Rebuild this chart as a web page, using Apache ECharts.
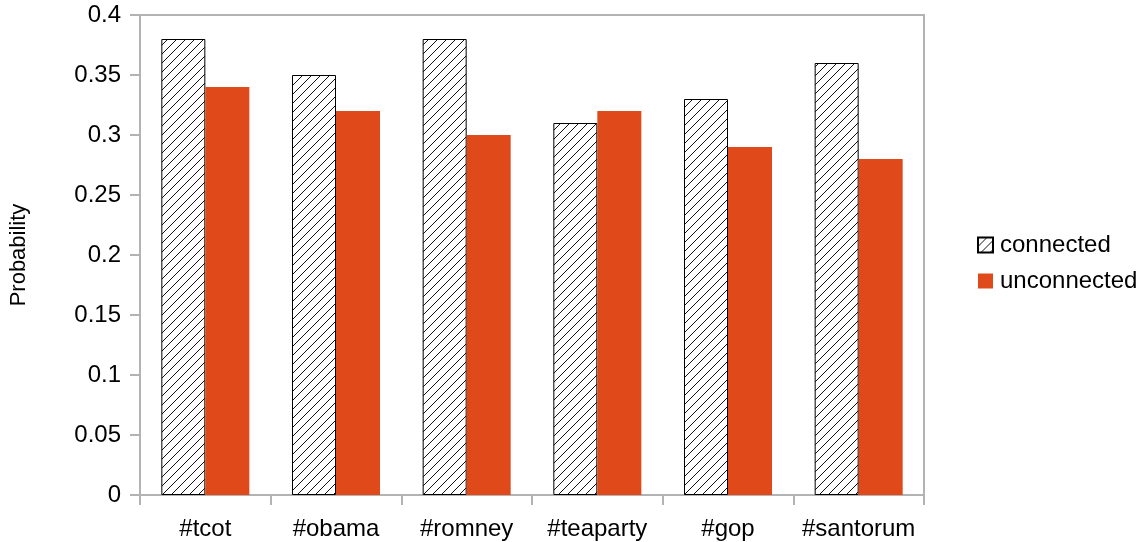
<!DOCTYPE html>
<html>
<head>
<meta charset="utf-8">
<script src="https://cdn.jsdelivr.net/npm/echarts@6/dist/echarts.min.js"></script>
<style>
  html, body { margin: 0; padding: 0; background: #fff; }
  #chart { width: 1147px; height: 542px; }
</style>
</head>
<body>
<div id="chart"></div>
<script>
// Hashtag categories and per-series probabilities
const categories = ['#tcot', '#obama', '#romney', '#teaparty', '#gop', '#santorum'];
const connected = [0.38, 0.35, 0.38, 0.31, 0.33, 0.36];
const unconnected = [0.34, 0.32, 0.30, 0.32, 0.29, 0.28];
const seriesNames = ['connected', 'unconnected'];

// Diagonal hatch tile for the "connected" bars
function hatchPattern() {
  const s = 9;
  const c = document.createElement('canvas');
  c.width = s; c.height = s;
  const g = c.getContext('2d');
  g.fillStyle = '#ffffff';
  g.fillRect(0, 0, s, s);
  g.strokeStyle = '#111111';
  g.lineWidth = 1;
  g.beginPath();
  g.moveTo(0, s); g.lineTo(s, 0);
  g.moveTo(s - 0.5, s + 0.5); g.lineTo(s + 0.5, s - 0.5);
  g.moveTo(-0.5, 0.5); g.lineTo(0.5, -0.5);
  g.stroke();
  return c;
}

const axisGray = '#b3b3b3';
const font = 'Liberation Sans, Arial, sans-serif';

const chart = echarts.init(document.getElementById('chart'), null, { renderer: 'canvas' });
chart.setOption({
  animation: false,
  backgroundColor: '#ffffff',
  grid: {
    left: 139, right: 223, top: 15, bottom: 47,
    show: true, borderColor: axisGray, borderWidth: 2, backgroundColor: 'transparent'
  },
  legend: {
    orient: 'vertical',
    left: 972, top: 228,
    itemWidth: 15, itemHeight: 15, itemGap: 12,
    icon: 'rect',
    textStyle: { fontFamily: font, fontSize: 24, color: '#000', padding: [0, 0, 0, 2] },
    data: seriesNames
  },
  xAxis: {
    type: 'category',
    data: categories,
    axisLine: { lineStyle: { color: axisGray, width: 2 } },
    axisTick: { show: true, interval: 0, length: 10, lineStyle: { color: axisGray, width: 2 } },
    axisLabel: { interval: 0, fontFamily: font, fontSize: 24, color: '#000', margin: 22 }
  },
  yAxis: {
    type: 'value',
    min: 0, max: 0.4, interval: 0.05,
    name: 'Probability',
    nameLocation: 'middle',
    nameGap: 110,
    nameTextStyle: { fontFamily: font, fontSize: 22, color: '#000' },
    axisLine: { show: true, lineStyle: { color: axisGray, width: 2 } },
    axisTick: { show: true, length: 10, lineStyle: { color: axisGray, width: 2 } },
    splitLine: { show: false },
    axisLabel: {
      fontFamily: font, fontSize: 24, color: '#000', margin: 19,
      formatter: v => String(Math.round(v * 100) / 100)
    }
  },
  series: [
    {
      name: seriesNames[0],
      type: 'bar',
      data: connected,
      barWidth: 44,
      barGap: '0%',
      itemStyle: {
        color: { image: hatchPattern(), repeat: 'repeat' },
        borderColor: '#000',
        borderWidth: 1
      }
    },
    {
      name: seriesNames[1],
      type: 'bar',
      data: unconnected,
      barWidth: 44,
      barGap: '0%',
      itemStyle: { color: '#e0491a' }
    }
  ]
});
</script>
</body>
</html>
